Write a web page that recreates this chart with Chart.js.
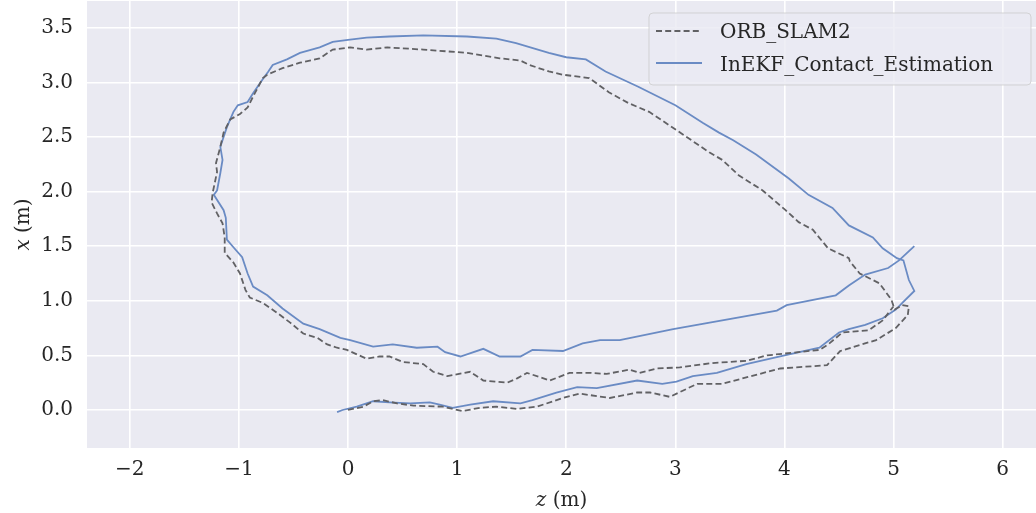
<!DOCTYPE html>
<html>
<head>
<meta charset="utf-8">
<script src="https://cdn.jsdelivr.net/npm/chart.js@4.4.1/dist/chart.umd.min.js"></script>
<style>
html,body{margin:0;padding:0;background:#ffffff;}
#wrap{width:1036px;height:513px;position:relative;}
</style>
</head>
<body>
<div id="wrap"><canvas id="c"></canvas></div>
<script>
// ---- data (z = horizontal, x = vertical), metres ----
const orbZ = [0.00,0.14,0.23,0.32,0.45,0.60,0.87,1.05,1.21,1.36,1.55,1.73,1.97,2.12,2.40,2.65,2.77,2.95,3.20,3.43,3.96,4.39,4.51,4.84,5.02,5.13,5.14,5.08,5.01,
  4.98,4.87,4.69,4.60,4.59,4.40,4.26,4.13,4.01,3.80,3.58,3.43,3.31,2.94,2.76,2.57,2.39,2.21,1.97,1.84,1.66,1.58,1.39,1.09,0.69,0.36,0.17,0.02,-0.14,-0.26,-0.44,-0.60,-0.74,-0.78,-0.87,-0.92,-0.99,-1.08,-1.14,-1.17,-1.21,-1.20,-1.24,-1.25,
  -1.20,-1.15,-1.13,-1.13,-1.05,-0.99,-0.94,-0.90,-0.78,-0.65,-0.53,-0.41,-0.28,-0.19,-0.10,-0.01,0.17,0.29,0.38,0.50,0.69,0.78,0.91,1.12,1.24,1.46,1.55,1.64,1.85,2.03,2.22,2.37,2.58,2.67,2.83,3.04,3.34,3.65,3.84,4.32,4.40,4.53,4.77,4.90,5.00];
const orbX = [0.00,0.03,0.08,0.09,0.06,0.04,0.03,-0.01,0.02,0.03,0.01,0.03,0.11,0.15,0.11,0.16,0.16,0.12,0.24,0.24,0.38,0.41,0.54,0.64,0.75,0.87,0.95,0.96,0.92,
  1.01,1.16,1.25,1.36,1.39,1.48,1.65,1.72,1.83,2.01,2.15,2.29,2.36,2.61,2.73,2.81,2.91,3.04,3.07,3.10,3.16,3.20,3.22,3.27,3.30,3.32,3.30,3.32,3.30,3.22,3.18,3.13,3.07,3.04,2.87,2.77,2.71,2.66,2.54,2.41,2.26,2.18,1.99,1.90,
  1.80,1.71,1.58,1.44,1.35,1.25,1.10,1.03,0.98,0.89,0.80,0.70,0.66,0.60,0.57,0.55,0.47,0.49,0.49,0.44,0.42,0.35,0.31,0.35,0.27,0.25,0.29,0.34,0.27,0.34,0.34,0.33,0.37,0.34,0.38,0.39,0.43,0.45,0.50,0.55,0.60,0.71,0.73,0.82,0.95];

const inekfZ = [-0.10,-0.05,0.08,0.17,0.23,0.38,0.57,0.75,0.84,0.96,1.12,1.33,1.58,1.69,1.91,2.10,2.28,2.65,2.88,3.01,3.16,3.38,3.65,3.96,4.32,4.50,4.59,4.74,4.90,5.02,5.08,5.19,
  5.14,5.09,5.03,4.90,4.81,4.59,4.44,4.22,4.04,3.74,3.53,3.40,3.25,3.00,2.66,2.36,2.18,2.00,1.84,1.54,1.36,1.09,0.69,0.38,0.17,0.00,-0.14,-0.26,-0.44,-0.56,-0.69,-0.73,-0.78,-0.87,-0.92,-1.01,-1.05,-1.11,-1.15,-1.17,-1.15,-1.17,-1.20,-1.23,
  -1.14,-1.12,-1.11,-1.05,-0.97,-0.92,-0.87,-0.74,-0.60,-0.41,-0.26,-0.07,0.02,0.23,0.41,0.63,0.82,0.89,1.03,1.24,1.39,1.58,1.69,1.97,2.15,2.31,2.49,2.98,3.93,4.02,4.47,4.59,4.74,4.95,5.05,5.19];
const inekfX = [-0.02,0.00,0.03,0.06,0.08,0.07,0.06,0.07,0.05,0.02,0.05,0.08,0.06,0.09,0.16,0.21,0.20,0.27,0.24,0.26,0.31,0.34,0.42,0.49,0.57,0.71,0.74,0.78,0.84,0.92,0.98,1.09,
  1.19,1.37,1.39,1.48,1.58,1.69,1.85,1.97,2.12,2.34,2.47,2.54,2.63,2.79,2.96,3.10,3.21,3.23,3.27,3.36,3.40,3.42,3.43,3.42,3.41,3.39,3.37,3.32,3.27,3.21,3.16,3.10,3.03,2.90,2.82,2.79,2.73,2.59,2.47,2.41,2.29,2.17,2.01,1.97,
  1.83,1.76,1.56,1.49,1.40,1.25,1.13,1.05,0.93,0.79,0.74,0.66,0.64,0.58,0.60,0.57,0.58,0.53,0.49,0.56,0.49,0.49,0.55,0.54,0.61,0.64,0.64,0.74,0.91,0.96,1.05,1.14,1.24,1.30,1.37,1.50];

const seriesNames = ['ORB_SLAM2', 'InEKF_Contact_Estimation'];
const xTicks = [-2,-1,0,1,2,3,4,5,6];
const yTicks = [0,0.5,1.0,1.5,2.0,2.5,3.0,3.5];
const xLimits = [-2.392, 6.305];
const yLimits = [-0.348, 3.745];

const FONT = "'DejaVu Serif', serif";
const TXT = '#262626';
const GRAY = '#616164';
const BLUE = '#6a8bc4';

function pts(zs, xs){ return zs.map((z,i)=>({x:z, y:xs[i]})); }

const bgPlugin = {
  id:'bg',
  beforeDraw(chart){
    const {ctx, chartArea:a} = chart;
    ctx.save();
    ctx.fillStyle = '#EAEAF2';
    ctx.fillRect(a.left, a.top, a.right-a.left, a.bottom-a.top);
    ctx.restore();
  }
};

const decoPlugin = {
  id:'deco',
  afterDraw(chart){
    const {ctx, chartArea:a} = chart;
    ctx.save();
    // legend
    const lx = 649, ly = 13, lw = 382, lh = 72;
    ctx.beginPath();
    ctx.roundRect(lx, ly, lw, lh, 4);
    ctx.fillStyle = 'rgba(234,234,242,0.8)';
    ctx.fill();
    ctx.strokeStyle = 'rgba(204,204,204,0.8)';
    ctx.lineWidth = 1;
    ctx.stroke();
    ctx.lineWidth = 1.8;
    ctx.strokeStyle = GRAY;
    ctx.setLineDash([6,3.2]);
    ctx.beginPath(); ctx.moveTo(656, 31); ctx.lineTo(702, 31); ctx.stroke();
    ctx.setLineDash([]);
    ctx.strokeStyle = BLUE;
    ctx.beginPath(); ctx.moveTo(656, 63); ctx.lineTo(702, 63); ctx.stroke();
    ctx.fillStyle = TXT;
    ctx.font = '20px ' + FONT;
    ctx.textAlign = 'left';
    ctx.textBaseline = 'alphabetic';
    ctx.fillText(seriesNames[0], 720, 38);
    ctx.fillText(seriesNames[1], 720, 71);
    // x axis title: italic z + " (m)"
    const cx = (a.left + a.right)/2;
    ctx.font = 'italic 20px ' + FONT;
    const w1 = ctx.measureText('z').width;
    ctx.font = '20px ' + FONT;
    const w2 = ctx.measureText(' (m)').width;
    let sx = cx - (w1+w2)/2;
    ctx.font = 'italic 20px ' + FONT;
    ctx.fillText('z', sx, 506);
    ctx.font = '20px ' + FONT;
    ctx.fillText(' (m)', sx + w1, 506);
    // y axis title rotated
    ctx.translate(29, (a.top + a.bottom)/2);
    ctx.rotate(-Math.PI/2);
    ctx.font = 'italic 20px ' + FONT;
    const v1 = ctx.measureText('x').width;
    ctx.font = '20px ' + FONT;
    const v2 = ctx.measureText(' (m)').width;
    sx = -(v1+v2)/2;
    ctx.font = 'italic 20px ' + FONT;
    ctx.fillText('x', sx, 0);
    ctx.font = '20px ' + FONT;
    ctx.fillText(' (m)', sx + v1, 0);
    ctx.restore();
  }
};

new Chart(document.getElementById('c'), {
  type: 'scatter',
  data: {
    datasets: [
      { label: seriesNames[0], data: pts(orbZ, orbX), showLine: true, borderColor: GRAY, borderWidth: 1.8, borderDash: [6,3.2], pointRadius: 0, fill: false, tension: 0 },
      { label: seriesNames[1], data: pts(inekfZ, inekfX), showLine: true, borderColor: BLUE, borderWidth: 1.8, pointRadius: 0, fill: false, tension: 0 }
    ]
  },
  options: {
    responsive: true,
    maintainAspectRatio: false,
    animation: false,
    layout: { padding: { top: 1, right: 0, bottom: 0, left: 0 } },
    plugins: { legend: { display: false }, tooltip: { enabled: false } },
    scales: {
      x: {
        type: 'linear', min: xLimits[0], max: xLimits[1],
        afterBuildTicks(s){ s.ticks = xTicks.map(v=>({value:v})); },
        afterFit(s){ s.height = 65; s.paddingLeft = 0; s.paddingRight = 0; },
        grid: { color: '#ffffff', lineWidth: 1.6, drawTicks: false },
        border: { display: false },
        ticks: { autoSkip: false, maxRotation: 0, padding: 10, color: TXT, font: { family: FONT, size: 20 },
          callback: v => (v < 0 ? '\u2212' + Math.abs(v) : String(v)) }
      },
      y: {
        type: 'linear', min: yLimits[0], max: yLimits[1],
        afterBuildTicks(s){ s.ticks = yTicks.map(v=>({value:v})); },
        afterFit(s){ s.width = 87; s.paddingTop = 0; s.paddingBottom = 0; },
        grid: { color: '#ffffff', lineWidth: 1.6, drawTicks: false },
        border: { display: false },
        ticks: { autoSkip: false, padding: 14, color: TXT, font: { family: FONT, size: 20 },
          callback: v => Number(v).toFixed(1) }
      }
    }
  },
  plugins: [bgPlugin, decoPlugin]
});
</script>
</body>
</html>
